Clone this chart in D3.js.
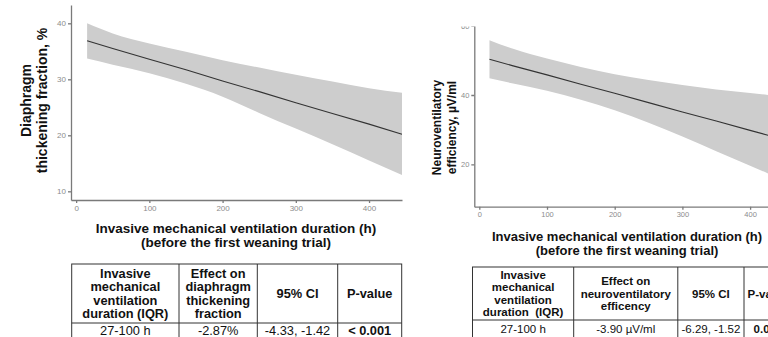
<!DOCTYPE html>
<meta charset="utf-8">
<style>
    body { margin: 0; background: #fff; }
    svg { display: block; font-family: "Liberation Sans", Arial, sans-serif; }
    .band { fill: #cdcdcd; stroke: none; }
    .fit { fill: none; stroke: #333; stroke-width: 1.1; }
    .axis path, .axis line { stroke: #7a7a7a; stroke-width: 1.3; }
    .axis text { fill: #8c8c8c; font-family: "Liberation Sans", Arial, sans-serif; }
    .title { font-weight: bold; fill: #111; text-anchor: middle; }
    .cell { text-anchor: middle; fill: #111; white-space: pre; }
    .grid { stroke: #333; stroke-width: 1; fill: none; }
</style>
<body>
<script src="https://d3js.org/d3.v7.min.js"></script>
<script>
    // values
    const durationH = [15, 50, 100, 150, 200, 250, 300, 350, 400, 445];
    const dtfFit   = [36.9, 35.5, 33.6, 31.7, 29.7, 27.8, 25.8, 23.9, 22.0, 20.2];
    const dtfUpper = [40.0, 38.2, 36.4, 34.9, 33.4, 32.1, 30.8, 29.6, 28.4, 27.6];
    const dtfLower = [33.7, 32.6, 31.1, 29.2, 26.9, 24.0, 21.2, 18.4, 15.5, 12.9];

    const nveFit   = [50.3, 48.4, 45.8, 43.1, 40.5, 37.8, 35.1, 32.5, 29.8, 27.4];
    const nveUpper = [55.8, 53.3, 50.5, 48.1, 46.0, 44.3, 42.9, 41.6, 40.6, 39.6];
    const nveLower = [44.8, 43.3, 41.2, 38.6, 35.6, 32.0, 28.0, 23.8, 19.6, 15.8];

    const xTicks = [0, 100, 200, 300, 400];
    const dtfTicks = [10, 20, 30, 40];
    const nveTicks = [20, 40, 60];

    const xTitle = ["Invasive mechanical ventilation duration (h)", "(before the first weaning trial)"];
    const dtfTitle = ["Diaphragm", "thickening fraction, %"];
    const nveTitle = ["Neuroventilatory", "efficiency, µV/ml"];

    const dtfHeader = [
        ["Invasive", "mechanical", "ventilation", "duration (IQR)"],
        ["Effect on", "diaphragm", "thickening", "fraction"],
        ["95% CI"],
        ["P-value"]
    ];
    const dtfRow = ["27-100 h", "-2.87%", "-4.33, -1.42", "< 0.001"];

    const nveHeader = [
        ["Invasive", "mechanical", "ventilation", "duration  (IQR)"],
        ["Effect on", "neuroventilatory", "efficency"],
        ["95% CI"],
        ["P-value"]
    ];
    const nveRow = ["27-100 h", "-3.90 µV/ml", "-6.29, -1.52", "0.002"];

    let svg = d3.select("body").append("svg")
        .attr("width", 768)
        .attr("height", 337);

    svg.append("clipPath").attr("id", "rightClip")
        .append("rect").attr("x", 400).attr("y", 26.5).attr("width", 400).attr("height", 320);

    function drawPanel(p) {
        let g = svg.append("g");
        if (p.clip) g.attr("clip-path", "url(#" + p.clip + ")");

        let x = d3.scaleLinear().domain(p.xDomain).range(p.xRange);
        let y = d3.scaleLinear().domain(p.yDomain).range(p.yRange);

        let rows = durationH.map(function(h, i) {
            return { h: h, fit: p.fit[i], lo: p.lower[i], hi: p.upper[i] };
        });

        let area = d3.area()
            .x(function(d) { return x(d.h); })
            .y0(function(d) { return y(d.lo); })
            .y1(function(d) { return y(d.hi); })
            .curve(d3.curveMonotoneX);

        let line = d3.line()
            .x(function(d) { return x(d.h); })
            .y(function(d) { return y(d.fit); });

        g.append("path").datum(rows).attr("class", "band").attr("d", area);
        g.append("path").datum(rows).attr("class", "fit").attr("d", line);

        g.append("g")
            .attr("class", "axis")
            .attr("transform", "translate(0," + p.yRange[0] + ")")
            .call(d3.axisBottom(x).tickValues(xTicks).tickSize(3).tickSizeOuter(0).tickPadding(2))
            .selectAll("text").style("font-size", p.tickFont + "px");

        g.append("g")
            .attr("class", "axis")
            .attr("transform", "translate(" + p.xRange[0] + ",0)")
            .call(d3.axisLeft(y).tickValues(p.yTicks).tickSize(3).tickSizeOuter(0).tickPadding(2))
            .selectAll("text").style("font-size", p.tickFont + "px");

        g.selectAll(".domain").attr("fill", "none");

        // x title, two lines
        g.selectAll(".xtitle")
            .data(xTitle)
            .enter().append("text")
            .attr("class", "title")
            .attr("x", p.xTitleX)
            .attr("y", function(d, i) { return p.xTitleY + i * p.xTitleGap; })
            .attr("dy", "0.35em")
            .style("font-size", p.xTitleFont + "px")
            .text(function(d) { return d; });

        // y title, rotated
        g.selectAll(".ytitle")
            .data(p.yTitle)
            .enter().append("text")
            .attr("class", "title")
            .attr("transform", function(d, i) {
                return "translate(" + p.yTitleX[i] + "," + p.yTitleY + ") rotate(-90)";
            })
            .attr("dy", "0.35em")
            .style("font-size", p.yTitleFont + "px")
            .text(function(d) { return d; });

        // table under the plot
        let t = p.table;
        let tg = g.append("g");
        let left = t.cols[0], right = t.cols[t.cols.length - 1];
        tg.append("rect").attr("class", "grid")
            .attr("x", left).attr("y", t.top)
            .attr("width", right - left).attr("height", t.rowBottom - t.top);
        tg.append("line").attr("class", "grid")
            .attr("x1", left).attr("x2", right)
            .attr("y1", t.headBottom).attr("y2", t.headBottom);
        t.cols.slice(1, -1).forEach(function(cx) {
            tg.append("line").attr("class", "grid")
                .attr("x1", cx).attr("x2", cx)
                .attr("y1", t.top).attr("y2", t.rowBottom);
        });

        let headMid = (t.top + t.headBottom) / 2 + t.headShift;
        t.header.forEach(function(lines, c) {
            let cx = (t.cols[c] + t.cols[c + 1]) / 2;
            lines.forEach(function(s, k) {
                tg.append("text")
                    .attr("class", "cell")
                    .attr("x", cx)
                    .attr("y", headMid + (k - (lines.length - 1) / 2) * t.lineGap)
                    .attr("dy", "0.35em")
                    .style("font-size", t.font + "px")
                    .style("font-weight", "bold")
                    .text(s);
            });
        });
        t.row.forEach(function(s, c) {
            tg.append("text")
                .attr("class", "cell")
                .attr("x", (t.cols[c] + t.cols[c + 1]) / 2)
                .attr("y", t.rowMid)
                .attr("dy", "0.35em")
                .style("font-size", t.font + "px")
                .style("font-weight", c == t.row.length - 1 ? "bold" : "normal")
                .text(s);
        });
    }

    drawPanel({
        fit: dtfFit, lower: dtfLower, upper: dtfUpper,
        xDomain: [-7, 445], xRange: [71, 402],
        yDomain: [8.45, 43.27], yRange: [200, 5],
        yTicks: dtfTicks, tickFont: 8,
        xTitleX: 236, xTitleY: 228.3, xTitleGap: 13.6, xTitleFont: 13.5,
        yTitle: dtfTitle, yTitleX: [26, 41.7], yTitleY: 100.5, yTitleFont: 14,
        table: {
            cols: [71.7, 179, 257.3, 337.7, 401.7],
            top: 264, headBottom: 323, rowBottom: 342, rowMid: 330.4,
            header: dtfHeader, row: dtfRow,
            font: 12.8, lineGap: 13.6, headShift: 0
        }
    });

    drawPanel({
        clip: "rightClip",
        fit: nveFit, lower: nveLower, upper: nveUpper,
        xDomain: [-7.4, 452], xRange: [474.3, 785.3],
        yDomain: [7.78, 60.5], yRange: [206.7, 23.9],
        yTicks: nveTicks, tickFont: 7.5,
        xTitleX: 627, xTitleY: 236.7, xTitleGap: 14, xTitleFont: 13,
        yTitle: nveTitle, yTitleX: [436.7, 451.7], yTitleY: 127.5, yTitleFont: 12,
        table: {
            cols: [472.5, 573.7, 677.8, 744, 792],
            top: 267, headBottom: 320, rowBottom: 342, rowMid: 329,
            header: nveHeader, row: nveRow,
            font: 11.5, lineGap: 12.4, headShift: 0
        }
    });
</script>
</body>
